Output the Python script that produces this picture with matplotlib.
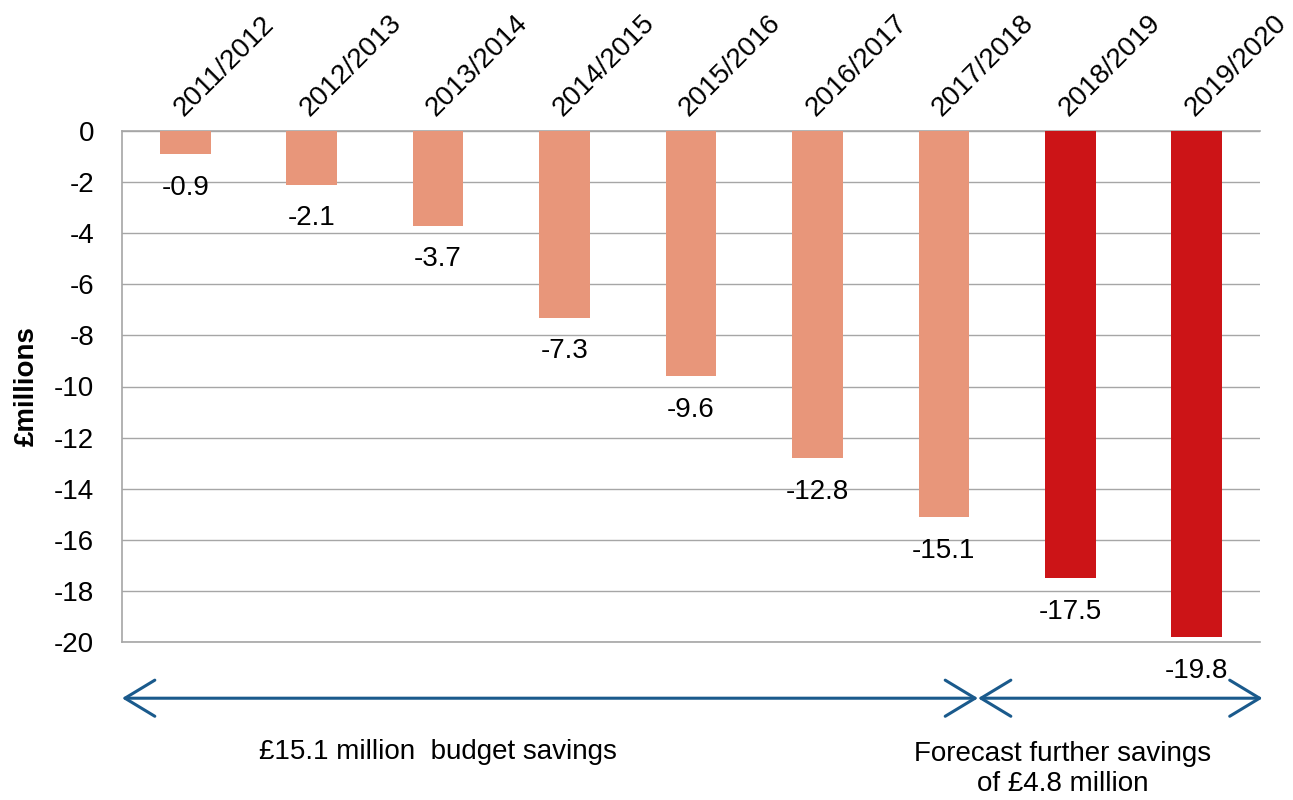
import matplotlib.pyplot as plt

plt.rcParams['font.family'] = ['Liberation Sans', 'DejaVu Sans']
plt.rcParams['axes.unicode_minus'] = False

years = ["2011/2012", "2012/2013", "2013/2014", "2014/2015", "2015/2016",
         "2016/2017", "2017/2018", "2018/2019", "2019/2020"]
savings = [-0.9, -2.1, -3.7, -7.3, -9.6, -12.8, -15.1, -17.5, -19.8]
forecast = [False, False, False, False, False, False, False, True, True]

actual_col = '#E8967A'
forecast_col = '#CC1417'
arrow_col = '#1A5A8C'
grid_col = '#A6A6A6'
fs = 20

fig = plt.figure(figsize=(12.93, 8), dpi=100)
ax = fig.add_axes([122/1293, 1 - 642/800, 1138/1293, 511/800])

x = list(range(len(years)))
colors = [forecast_col if f else actual_col for f in forecast]
ax.bar(x, savings, width=0.4, color=colors, zorder=3)

# value labels under each bar
for xi, v in zip(x, savings):
    ax.annotate(f'{v:.1f}', (xi, v), xytext=(0, -15), textcoords='offset points',
                ha='center', va='top', fontsize=fs)

# year labels along the top, slanted
for xi, yr in zip(x, years):
    ax.annotate(yr, (xi, 0), xytext=(-5, 14), textcoords='offset points',
                rotation=45, ha='left', va='center', rotation_mode='anchor',
                fontsize=fs, annotation_clip=False)

ax.set_xlim(-0.5, len(years) - 0.5)
ax.set_ylim(-20, 0)
ax.set_xticks([])
ax.set_yticks(range(-20, 1, 2))
ax.yaxis.grid(True, color=grid_col, linewidth=1, zorder=0)
ax.tick_params(axis='y', length=0, labelsize=fs, pad=20)

ax.spines['right'].set_visible(False)
for s in ['left', 'top', 'bottom']:
    ax.spines[s].set_color(grid_col)
    ax.spines[s].set_linewidth(1.2)

ax.set_ylabel('£millions', fontsize=fs, fontweight='bold', labelpad=10)

# span arrows under the axis
split = 6.27
arrow = dict(arrowstyle='<->,head_length=2.15,head_width=1.3', color=arrow_col,
             lw=2.2, shrinkA=0, shrinkB=0)
ax.annotate('', xy=(-0.5, -0.11), xytext=(split, -0.11),
            xycoords=('data', 'axes fraction'), textcoords=('data', 'axes fraction'),
            arrowprops=arrow, annotation_clip=False)
ax.annotate('', xy=(split, -0.11), xytext=(8.52, -0.11),
            xycoords=('data', 'axes fraction'), textcoords=('data', 'axes fraction'),
            arrowprops=arrow, annotation_clip=False)

ax.text(2.0, -0.215, '£15.1 million  budget savings', transform=ax.get_xaxis_transform(),
        ha='center', va='center', fontsize=fs)
ax.text(6.94, -0.2476, 'Forecast further savings\nof £4.8 million',
        transform=ax.get_xaxis_transform(), ha='center', va='center', fontsize=fs,
        linespacing=1.2)

fig.savefig('out.png', dpi=100)
